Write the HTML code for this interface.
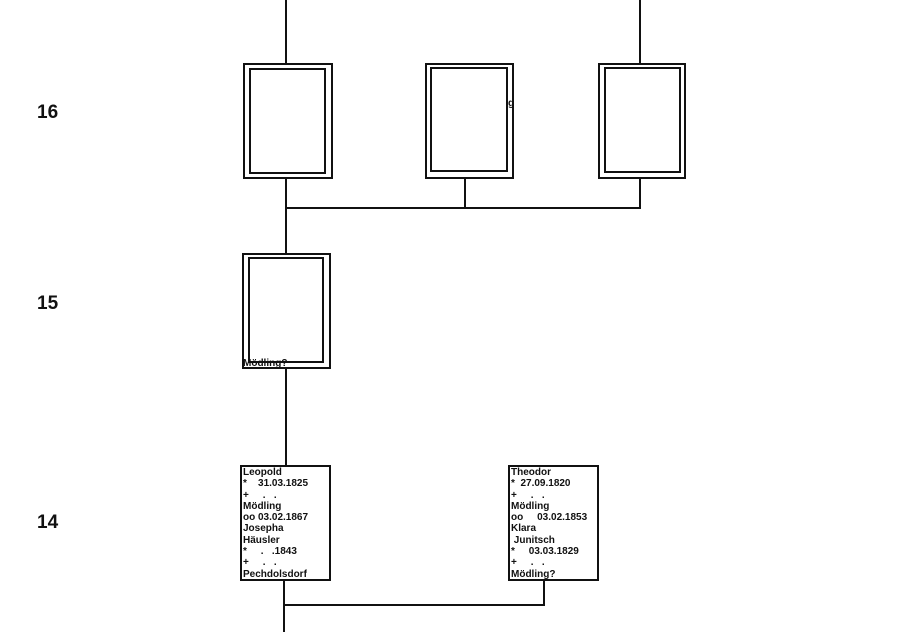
<!DOCTYPE html>
<html><head><style>
body{margin:0;width:908px;height:632px;background:#fff;position:relative;overflow:hidden;font-family:"Liberation Sans",sans-serif;}
.a{position:absolute;}
.l{position:absolute;background:#111;}
.b{position:absolute;border:2px solid #111;box-sizing:border-box;}
.g{position:absolute;font-weight:bold;font-size:19px;color:#111;}
.t{position:absolute;font-size:10px;font-weight:bold;line-height:11.3px;color:#111;white-space:pre;}
</style></head><body>
<div class="g" style="left:37px;top:102px">16</div>
<div class="g" style="left:37px;top:293px">15</div>
<div class="g" style="left:37px;top:512px">14</div>

<div class="l" style="left:285px;top:0;width:2px;height:64px"></div>
<div class="l" style="left:639px;top:0;width:2px;height:64px"></div>
<div class="b" style="left:243px;top:63px;width:90px;height:116px"></div>
<div class="b" style="left:249px;top:68px;width:77px;height:106px"></div>
<div class="b" style="left:425px;top:63px;width:89px;height:116px"></div>
<div class="b" style="left:430px;top:67px;width:78px;height:105px"></div>
<div class="t" style="left:508px;top:98px">g</div>
<div class="b" style="left:598px;top:63px;width:88px;height:116px"></div>
<div class="b" style="left:604px;top:67px;width:77px;height:106px"></div>
<div class="l" style="left:285px;top:178px;width:2px;height:76px"></div>
<div class="l" style="left:464px;top:178px;width:2px;height:31px"></div>
<div class="l" style="left:639px;top:178px;width:2px;height:31px"></div>
<div class="l" style="left:285px;top:207px;width:356px;height:2px"></div>

<div class="b" style="left:242px;top:253px;width:89px;height:116px"></div>
<div class="b" style="left:248px;top:257px;width:76px;height:106px"></div>
<div class="t" style="left:243px;top:358px">Mödling?</div>
<div class="l" style="left:285px;top:368px;width:2px;height:98px"></div>

<div class="b" style="left:240px;top:465px;width:91px;height:116px"></div>
<div class="t" style="left:243px;top:467px">Leopold
*    31.03.1825
+     .   .
Mödling
oo 03.02.1867
Josepha
Häusler
*     .   .1843
+     .   .
Pechdolsdorf</div>
<div class="b" style="left:508px;top:465px;width:91px;height:116px"></div>
<div class="t" style="left:511px;top:467px">Theodor
*  27.09.1820
+     .   .
Mödling
oo     03.02.1853
Klara
 Junitsch
*     03.03.1829
+     .   .
Mödling?</div>
<div class="l" style="left:283px;top:580px;width:2px;height:52px"></div>
<div class="l" style="left:543px;top:580px;width:2px;height:26px"></div>
<div class="l" style="left:283px;top:604px;width:262px;height:2px"></div>
</body></html>
